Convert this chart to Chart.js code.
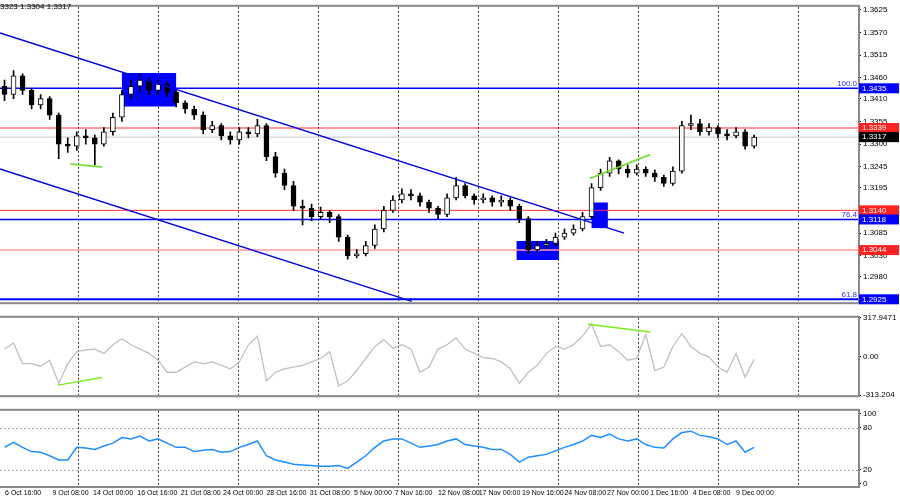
<!DOCTYPE html>
<html><head><meta charset="utf-8">
<script src="https://cdn.jsdelivr.net/npm/chart.js@4/dist/chart.umd.min.js"></script>
<style>
html,body{margin:0;padding:0;background:#fff;width:900px;height:500px;overflow:hidden}
canvas{position:absolute;left:0}
#c1{top:0}#c2{top:311px}#c3{top:404px}
</style></head><body>
<canvas id="c1" width="900" height="309"></canvas>
<canvas id="c2" width="900" height="91"></canvas>
<canvas id="c3" width="900" height="96"></canvas>
<script>
const opens=[1.3440,1.3420,1.3465,1.3430,1.3395,1.3410,1.3370,1.3300,1.3295,1.3320,
1.3315,1.3300,1.3330,1.3365,1.3420,1.3440,1.3455,1.3430,1.3445,1.3425,
1.3400,1.3385,1.3370,1.3335,1.3345,1.3320,1.3310,1.3330,1.3325,1.3345,
1.3270,1.3230,1.3200,1.3150,1.3145,1.3125,1.3135,1.3125,1.3075,1.3030,
1.3035,1.3055,1.3095,1.3140,1.3165,1.3180,1.3175,1.3160,1.3145,1.3130,
1.3170,1.3200,1.3175,1.3165,1.3170,1.3160,1.3165,1.3150,1.3120,1.3045,
1.3055,1.3060,1.3075,1.3085,1.3095,1.3125,1.3195,1.3230,1.3260,1.3240,
1.3230,1.3240,1.3230,1.3220,1.3205,1.3235,1.3345,1.3350,1.3330,1.3340,
1.3325,1.3320,1.3330,1.3295];
const closes=[1.3420,1.3465,1.3430,1.3395,1.3410,1.3370,1.3300,1.3295,1.3320,1.3315,
1.3300,1.3330,1.3365,1.3420,1.3440,1.3455,1.3430,1.3445,1.3425,1.3400,
1.3385,1.3370,1.3335,1.3345,1.3320,1.3310,1.3330,1.3325,1.3345,1.3270,
1.3230,1.3200,1.3150,1.3145,1.3125,1.3135,1.3125,1.3075,1.3030,1.3035,
1.3055,1.3095,1.3140,1.3165,1.3180,1.3175,1.3160,1.3145,1.3130,1.3170,
1.3200,1.3175,1.3165,1.3170,1.3160,1.3165,1.3150,1.3120,1.3045,1.3055,
1.3060,1.3075,1.3085,1.3095,1.3125,1.3195,1.3230,1.3260,1.3240,1.3230,
1.3240,1.3230,1.3220,1.3205,1.3235,1.3345,1.3350,1.3330,1.3340,1.3325,
1.3320,1.3330,1.3295,1.3317];
const highs=[1.3455,1.3478,1.3470,1.3435,1.3420,1.3415,1.3375,1.3315,1.3330,1.3335,
1.3322,1.3340,1.3375,1.3430,1.3455,1.3470,1.3460,1.3455,1.3450,1.3430,
1.3405,1.3392,1.3378,1.3355,1.3350,1.3330,1.3340,1.3340,1.3360,1.3350,
1.3280,1.3240,1.3210,1.3165,1.3155,1.3148,1.3140,1.3130,1.3080,1.3045,
1.3065,1.3105,1.3150,1.3175,1.3192,1.3190,1.3182,1.3165,1.3150,1.3180,
1.3220,1.3205,1.3180,1.3180,1.3175,1.3175,1.3170,1.3155,1.3125,1.3065,
1.3070,1.3085,1.3095,1.3105,1.3135,1.3205,1.3240,1.3268,1.3262,1.3250,
1.3250,1.3245,1.3238,1.3225,1.3245,1.3355,1.3370,1.3360,1.3350,1.3345,
1.3335,1.3340,1.3335,1.3322];
const lows=[1.3405,1.3410,1.3420,1.3385,1.3385,1.3360,1.3265,1.3280,1.3285,1.3300,
1.3250,1.3295,1.3322,1.3355,1.3410,1.3425,1.3420,1.3420,1.3415,1.3390,
1.3375,1.3360,1.3325,1.3328,1.3310,1.3300,1.3300,1.3315,1.3318,1.3260,
1.3220,1.3190,1.3140,1.3105,1.3115,1.3118,1.3110,1.3065,1.3022,1.3025,
1.3030,1.3048,1.3088,1.3135,1.3158,1.3165,1.3150,1.3135,1.3120,1.3125,
1.3165,1.3170,1.3155,1.3158,1.3150,1.3150,1.3140,1.3110,1.3035,1.3040,
1.3048,1.3055,1.3070,1.3080,1.3090,1.3120,1.3188,1.3222,1.3228,1.3220,
1.3225,1.3222,1.3210,1.3198,1.3200,1.3230,1.3335,1.3322,1.3322,1.3315,
1.3310,1.3315,1.3288,1.3290];
const cci=[63,112,-56,-56,-77,-28,-217,-56,42,56,63,28,98,147,98,63,28,-28,-126,-126,
-84,-42,-56,-42,-70,-98,-42,98,168,-196,-126,-98,-84,-70,-42,-14,42,-238,-196,-112,
-14,84,140,70,98,63,-126,-84,63,98,154,63,28,-7,-14,-42,-98,-217,-126,-70,
28,84,63,98,168,266,84,98,42,-28,-14,182,-112,-84,84,189,84,28,0,-84,
-126,28,-168,-20];
const rsi=[52,59,52,46,45,40,34,34,52,51,49,54,58,66,64,68,61,64,58,52,
52,46,48,49,45,46,52,56,61,40,34,31,28,27,26,25,25,26,22,31,
40,52,61,64,64,58,52,54,56,61,64,56,54,52,49,49,42,31,38,40,
42,47,52,56,61,69,66,71,64,61,64,56,52,51,64,73,75,69,67,64,
56,61,45,52];
const timeLabels=["6 Oct 16:00","9 Oct 08:00","14 Oct 00:00","16 Oct 16:00","21 Oct 08:00","24 Oct 00:00","28 Oct 16:00","31 Oct 08:00","5 Nov 00:00","7 Nov 16:00","12 Nov 08:00","17 Nov 00:00","19 Nov 16:00","24 Nov 08:00","27 Nov 00:00","1 Dec 16:00","4 Dec 08:00","9 Dec 00:00"];
const timeLabelIdx=[0.06,5.3,9.8,14.7,19.5,24.2,29,33.8,38.7,43.2,48,52.5,57.3,62,66.7,71.5,76.2,81];
const priceTicks=[1.3625,1.3570,1.3515,1.3460,1.3410,1.3355,1.3300,1.3245,1.3195,1.3085,1.3030,1.2980,1.2925];
const levels=[
 {v:1.3435,c:'#0000ff',w:1.5,tag:'#0000ff',pct:'100.0'},
 {v:1.3339,c:'#ff3030',w:1,tag:'#ff2020'},
 {v:1.3317,c:'#c8c8c8',w:1,tag:'#000000'},
 {v:1.3140,c:'#ff3030',w:1,tag:'#ff2020'},
 {v:1.3118,c:'#0000ff',w:1.5,tag:'#0000ff',pct:'76.4'},
 {v:1.3044,c:'#ff9a9a',w:1.5,tag:'#ff2020'},
 {v:1.2925,c:'#0000ff',w:2,tag:'#0000ff',pct:'61.8'}];
const channelUpper=[{x:-0.5,y:1.3569},{x:68.6,y:1.3085}];
const channelLower=[{x:-0.5,y:1.3240},{x:45.1,y:1.2920}];
const boxes=[{x0:13,x1:19,y0:1.3472,y1:1.3391},{x0:56.7,x1:61.4,y0:1.3066,y1:1.3020},{x0:65,x1:66.8,y0:1.3159,y1:1.3097}];
const priceDiv=[[{x:7.3,y:1.3252},{x:10.8,y:1.3245}],[{x:64.8,y:1.3217},{x:71.5,y:1.3275}]];
const cciDiv=[[{x:5.9,y:-231},{x:10.8,y:-168}],[{x:64.6,y:266},{x:71.5,y:203}]];
const cciTicks=[317.9471,0,-313.204];
const rsiTicks=[100,80,20,0];

const F='"Liberation Sans", Arial, sans-serif';
Chart.defaults.animation=false;
Chart.defaults.font.family=F;
Chart.defaults.font.size=8;
Chart.defaults.color='#000';
const idx=closes.map((_,i)=>i);
const xScale={type:'linear',min:-0.5,max:94.5,display:false,offset:false};
function yScale(min,max,ticks,fmt){return{position:'right',min,max,
 afterFit:s=>{s.width=42},
 afterBuildTicks:s=>{s.ticks=ticks.map(v=>({value:v}))},
 ticks:{padding:2,font:{size:8},color:'#000',callback:fmt},
 grid:{drawOnChartArea:false,tickLength:3,color:'#000'},border:{display:false}};}
function frame(ch,ctx){const a=ch.chartArea;ctx.save();
 ctx.setLineDash([2,2]);ctx.strokeStyle='#333';ctx.lineWidth=1;
 for(let x=a.left+78;x<a.right;x+=80){ctx.beginPath();ctx.moveTo(x+0.5,a.top);ctx.lineTo(x+0.5,a.bottom);ctx.stroke();}
 ctx.restore();}
function border(ch,ctx){const a=ch.chartArea;ctx.save();ctx.strokeStyle='#888';ctx.lineWidth=2;
 ctx.strokeRect(a.left-1,a.top-1,a.right-a.left+2,a.bottom-a.top+2);ctx.restore();}
function seg(ctx,xs,ys,p,color,w){ctx.save();ctx.strokeStyle=color;ctx.lineWidth=w;ctx.beginPath();
 ctx.moveTo(xs.getPixelForValue(p[0].x),ys.getPixelForValue(p[0].y));
 ctx.lineTo(xs.getPixelForValue(p[1].x),ys.getPixelForValue(p[1].y));ctx.stroke();ctx.restore();}
const pad={left:0,right:0,top:2,bottom:2};

new Chart(document.getElementById('c1'),{
 data:{datasets:[
  ...levels.map(l=>({type:'line',data:[{x:-0.5,y:l.v},{x:94.5,y:l.v}],borderColor:l.c,borderWidth:l.w,pointRadius:0,order:3})),
  {type:'line',data:channelUpper,borderColor:'#0000e0',borderWidth:1.5,pointRadius:0,order:0},
  {type:'line',data:channelLower,borderColor:'#0000e0',borderWidth:1.5,pointRadius:0,order:0},
  {type:'bar',data:idx.map(i=>({x:i,y:[lows[i],highs[i]]})),backgroundColor:'#000',barThickness:1,grouped:false,order:2},
  {type:'bar',data:idx.map(i=>({x:i,y:[opens[i],closes[i]]})),backgroundColor:idx.map(i=>closes[i]>=opens[i]?'#ffffff':'#000000'),
   borderColor:'#000',borderWidth:1,borderSkipped:false,barThickness:5,minBarLength:1,grouped:false,order:1}
 ]},
 options:{responsive:false,layout:{padding:pad},plugins:{legend:{display:false},tooltip:{enabled:false}},
  scales:{x:xScale,y:yScale(1.2918,1.3632,priceTicks,v=>v.toFixed(4))}},
 plugins:[{id:'p1',
  beforeDatasetsDraw(ch){const ctx=ch.ctx,xs=ch.scales.x,ys=ch.scales.y;frame(ch,ctx);
   ctx.save();ctx.fillStyle='#0000ff';
   boxes.forEach(b=>{const x0=xs.getPixelForValue(b.x0),x1=xs.getPixelForValue(b.x1),y0=ys.getPixelForValue(b.y0),y1=ys.getPixelForValue(b.y1);ctx.fillRect(x0,y0,x1-x0,y1-y0);});
   ctx.restore();},
  afterDatasetsDraw(ch){const ctx=ch.ctx,xs=ch.scales.x,ys=ch.scales.y,a=ch.chartArea;
   priceDiv.forEach(p=>seg(ctx,xs,ys,p,'#66dd22',1.5));
   border(ch,ctx);
   ctx.save();ctx.font='8px '+F;ctx.textBaseline='middle';
   levels.forEach(l=>{const y=ys.getPixelForValue(l.v);ctx.fillStyle=l.tag;ctx.fillRect(a.right+1,y-5,40,10);
    ctx.fillStyle='#fff';ctx.textAlign='left';ctx.fillText(l.v.toFixed(4),a.right+4,y);
    if(l.pct){ctx.fillStyle='#3030ff';ctx.textAlign='right';ctx.fillText(l.pct,a.right-1,y-5);}});
   ctx.fillStyle='#000';ctx.textAlign='left';ctx.textBaseline='top';ctx.fillText('3323 1.3304 1.3317',0,3);
   ctx.restore();}}]
});

new Chart(document.getElementById('c2'),{
 data:{datasets:[{type:'line',data:idx.map(i=>({x:i,y:cci[i]})),borderColor:'#c0c0c0',borderWidth:1.3,pointRadius:0,tension:0}]},
 options:{responsive:false,layout:{padding:pad},plugins:{legend:{display:false},tooltip:{enabled:false}},
  scales:{x:xScale,y:yScale(-313.204,317.9471,cciTicks,v=>v===0?'0.00':String(v))}},
 plugins:[{id:'p2',beforeDatasetsDraw(ch){frame(ch,ch.ctx);},
  afterDatasetsDraw(ch){const ctx=ch.ctx;cciDiv.forEach(p=>seg(ctx,ch.scales.x,ch.scales.y,p,'#77ee22',1.5));border(ch,ctx);}}]
});

new Chart(document.getElementById('c3'),{
 data:{datasets:[{type:'line',data:idx.map(i=>({x:i,y:rsi[i]})),borderColor:'#1e8fff',borderWidth:1.5,pointRadius:0,tension:0}]},
 options:{responsive:false,layout:{padding:{left:0,right:0,top:2,bottom:14}},plugins:{legend:{display:false},tooltip:{enabled:false}},
  scales:{x:xScale,y:yScale(-3,104,rsiTicks,v=>String(v))}},
 plugins:[{id:'p3',beforeDatasetsDraw(ch){const ctx=ch.ctx,a=ch.chartArea,ys=ch.scales.y;frame(ch,ctx);
   ctx.save();ctx.setLineDash([2,2]);ctx.strokeStyle='#aaa';
   [80,20].forEach(v=>{const y=Math.round(ys.getPixelForValue(v))+0.5;ctx.beginPath();ctx.moveTo(a.left,y);ctx.lineTo(a.right,y);ctx.stroke();});ctx.restore();},
  afterDatasetsDraw(ch){const ctx=ch.ctx,a=ch.chartArea,xs=ch.scales.x;border(ch,ctx);
   ctx.save();ctx.font='7px '+F;ctx.fillStyle='#000';ctx.textAlign='left';ctx.textBaseline='top';
   timeLabels.forEach((t,k)=>ctx.fillText(t,xs.getPixelForValue(timeLabelIdx[k]),a.bottom+4));ctx.restore();}}]
});
</script></body></html>
